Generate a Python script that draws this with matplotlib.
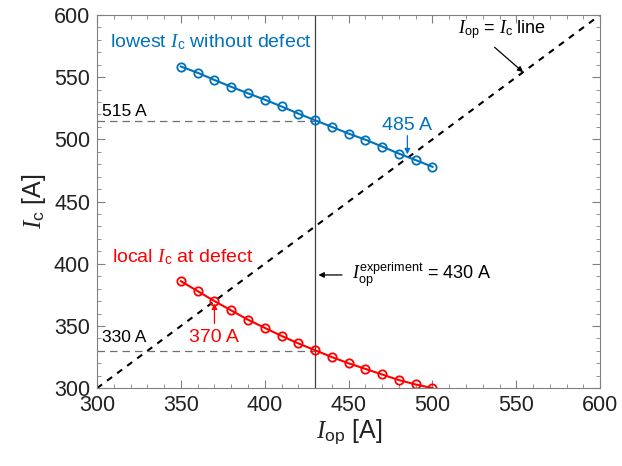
import numpy as np
import matplotlib
matplotlib.use('Agg')
import matplotlib.pyplot as plt
from matplotlib.ticker import MultipleLocator

plt.rcParams['font.family'] = 'Liberation Sans'
plt.rcParams['mathtext.fontset'] = 'custom'
plt.rcParams['mathtext.it'] = 'Liberation Serif:italic'
plt.rcParams['mathtext.rm'] = 'Liberation Sans'

# operating current [A]
i_op = [350, 360, 370, 380, 390, 400, 410, 420, 430, 440, 450, 460, 470, 480, 490, 500]
# lowest Ic without defect [A]
ic_lowest = [558.5, 553.5, 547.7, 542.2, 537.0, 531.9, 526.4, 520.7, 515.3,
             510.0, 504.6, 499.7, 494.2, 488.5, 483.3, 477.9]
# local Ic at defect [A]
ic_local = [386.0, 378.0, 370.0, 362.5, 355.0, 348.5, 342.0, 336.0, 330.5,
            325.0, 320.0, 315.5, 311.0, 306.5, 303.0, 300.0]
diag = [300, 600]
i_exp = 430

blue = '#0072BD'
red = '#FF0000'

fig = plt.figure(figsize=(6.22, 4.66), dpi=100)
ax = fig.add_axes([0.156, 0.167, 0.809, 0.801])

ax.plot(diag, diag, color='black', ls=(0, (3, 3)), lw=1.5)
ax.axvline(i_exp, color='#404040', lw=0.9)
ax.plot([300, i_exp], [515, 515], color='#707070', ls=(0, (6, 4)), lw=0.9)
ax.plot([300, i_exp], [330, 330], color='#707070', ls=(0, (6, 4)), lw=0.9)

ax.plot(i_op, ic_lowest, color=blue, lw=1.5, marker='o', ms=6, mfc='none', mew=1.3)
ax.plot(i_op, ic_local, color=red, lw=1.5, marker='o', ms=6, mfc='none', mew=1.3)

ax.set_xlim(300, 600)
ax.set_ylim(300, 600)
ax.xaxis.set_major_locator(MultipleLocator(50))
ax.yaxis.set_major_locator(MultipleLocator(50))
ax.xaxis.set_minor_locator(MultipleLocator(10))
ax.yaxis.set_minor_locator(MultipleLocator(10))
ax.tick_params(which='both', direction='in', top=True, right=True, color='#808080',
               labelsize=15.5, labelcolor='#222222')
ax.tick_params(which='major', length=6, pad=5)
ax.tick_params(which='minor', length=3)
for s in ax.spines.values():
    s.set_color('#808080')

ax.set_xlabel(r'$I_{\mathrm{op}}$ [A]', fontsize=18, color='#222222', labelpad=1)
ax.set_ylabel(r'$I_{\mathrm{c}}$ [A]', fontsize=18, color='#222222', labelpad=4)

ax.text(308, 578, r'lowest $I_{\mathrm{c}}$ without defect', color=blue, fontsize=14, va='center')
ax.text(309, 405, r'local $I_{\mathrm{c}}$ at defect', color=red, fontsize=14, va='center')
ax.text(303, 522, '515 A', fontsize=12.5, va='center')
ax.text(303, 341, '330 A', fontsize=12.5, va='center')

ax.text(470, 511, '485 A', color=blue, fontsize=14, va='center')
ax.annotate('', xy=(485, 488), xytext=(485, 503),
            arrowprops=dict(arrowstyle='-|>', color=blue, lw=0.9, mutation_scale=8,
                            shrinkA=0, shrinkB=0))
ax.text(355, 341, '370 A', color=red, fontsize=14, va='center')
ax.annotate('', xy=(370, 368), xytext=(370, 352),
            arrowprops=dict(arrowstyle='-|>', color=red, lw=0.9, mutation_scale=8,
                            shrinkA=0, shrinkB=0))

ax.text(515, 588, r'$I_{\mathrm{op}}$ = $I_{\mathrm{c}}$ line', fontsize=13, va='center')
ax.annotate('', xy=(554, 554), xytext=(537, 574),
            arrowprops=dict(arrowstyle='-|>', color='black', lw=0.9, mutation_scale=8,
                            shrinkA=0, shrinkB=0))

ax.annotate('', xy=(432, 391), xytext=(446, 391),
            arrowprops=dict(arrowstyle='-|>', color='black', lw=0.9, mutation_scale=8,
                            shrinkA=0, shrinkB=0))
ax.text(452, 391, r'$I_{\mathrm{op}}^{\mathrm{experiment}}$ = 430 A', fontsize=13, va='center')

fig.savefig('out.png', dpi=100)
